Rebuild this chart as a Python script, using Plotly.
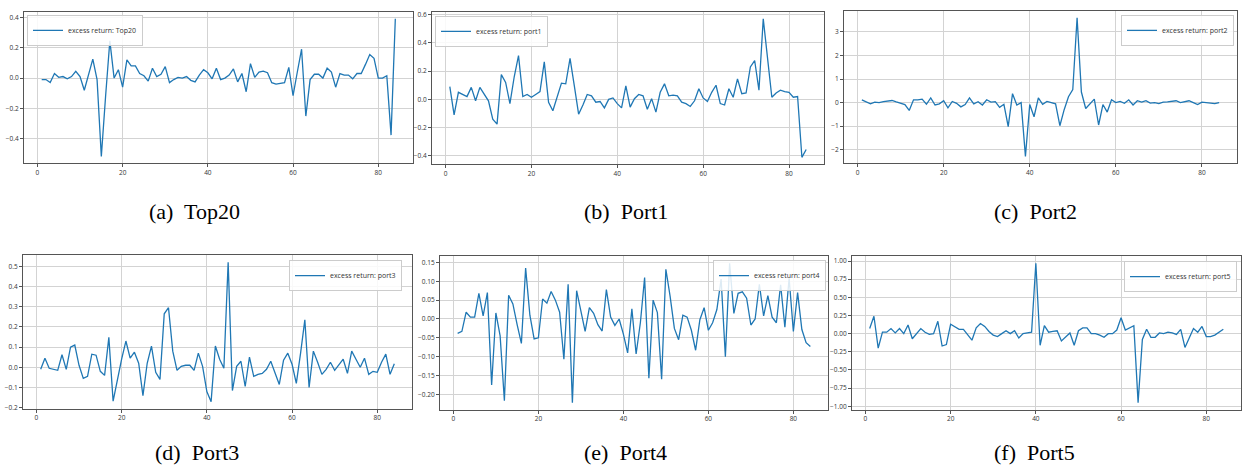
import plotly.graph_objects as go

x_vals = list(range(1, 85))

top20 = [-0.01, -0.01, -0.03, 0.03, 0.005, 0.01, -0.005, 0.01, 0.045, 0.01,
         -0.08, 0.03, 0.125, -0.01, -0.515, -0.12, 0.245, 0.0, 0.055, -0.06,
         0.12, 0.08, 0.08, 0.03, 0.015, -0.02, 0.065, 0.01, 0.025, 0.075,
         -0.03, -0.01, 0.005, 0.0, 0.01, -0.015, -0.025, 0.02, 0.055, 0.035,
         -0.005, 0.065, -0.01, 0.0, 0.02, 0.06, -0.025, 0.03, -0.09, 0.095,
         0.005, 0.04, 0.045, 0.035, -0.03, -0.04, -0.035, -0.03, 0.07, -0.115,
         0.04, 0.19, -0.25, -0.01, 0.025, 0.025, 0.0, 0.065, 0.04, -0.06,
         0.03, 0.02, 0.02, -0.005, 0.03, 0.03, 0.09, 0.155, 0.13, 0.0,
         0.0, 0.015, -0.375, 0.39]

port1 = [0.09, -0.11, 0.05, 0.035, 0.02, 0.085, -0.01, 0.085, 0.04, -0.01,
         -0.14, -0.175, 0.175, 0.12, -0.03, 0.16, 0.31, 0.02, 0.035, 0.015,
         0.035, 0.055, 0.265, -0.02, -0.08, 0.01, 0.115, 0.11, 0.29, 0.095,
         -0.105, -0.04, 0.035, 0.025, -0.02, -0.015, -0.06, 0.0, 0.01, -0.03,
         -0.06, 0.095, -0.055, 0.005, 0.035, 0.025, -0.07, 0.005, -0.09, 0.05,
         0.11, 0.025, 0.03, 0.025, -0.02, -0.03, -0.05, -0.01, 0.075, 0.01,
         -0.015, 0.05, 0.1, -0.03, -0.04, 0.075, 0.015, 0.145, 0.04, 0.045,
         0.23, 0.275, 0.065, 0.57, 0.3, 0.015, 0.045, 0.065, 0.055, 0.05,
         0.015, 0.02, -0.41, -0.355]

port2 = [0.12, 0.05, -0.05, 0.02, 0.0, 0.04, 0.07, 0.09, 0.03, -0.02,
         -0.08, -0.33, 0.12, 0.12, 0.15, -0.07, 0.2, -0.1, -0.05, 0.08,
         -0.22, 0.05, -0.03, -0.18, -0.08, 0.2, -0.05, 0.04, -0.1, 0.12,
         0.02, 0.04, -0.2, -0.07, -1.02, 0.38, -0.1, 0.0, -2.28, -0.08,
         -0.6, 0.2, -0.07, 0.05, 0.0, -0.05, -0.98, -0.3, 0.25, 0.55,
         3.6, 0.45, -0.25, -0.05, 0.15, -0.95, -0.08, -0.4, 0.12, 0.0,
         0.05, -0.03, 0.12, -0.1, 0.08, 0.02, 0.08, -0.02, 0.0, -0.04,
         0.02, 0.03, 0.05, 0.08, 0.0, 0.03, 0.08, 0.0, -0.08, 0.02,
         0.0, -0.05, -0.04, 0.0]

port3 = [-0.01, 0.045, -0.005, -0.01, -0.015, 0.062, -0.01, 0.1, 0.11, 0.01,
         -0.055, -0.045, 0.065, 0.06, -0.02, -0.04, 0.148, -0.168, -0.06, 0.04,
         0.13, 0.045, 0.075, 0.02, -0.14, 0.02, 0.105, -0.025, -0.06, 0.265,
         0.295, 0.08, -0.015, 0.005, 0.01, 0.01, -0.015, 0.07, 0.005, -0.12,
         -0.17, 0.105, 0.04, -0.005, 0.52, -0.115, 0.005, 0.03, -0.095, 0.05,
         -0.045, -0.035, -0.03, -0.01, 0.03, -0.025, -0.085, 0.035, 0.07, 0.015,
         -0.08, 0.07, 0.235, -0.1, 0.08, 0.025, -0.035, -0.01, 0.025, -0.015,
         0.015, 0.04, -0.03, 0.08, 0.04, 0.0, 0.045, -0.035, -0.02, -0.025,
         0.025, 0.065, -0.035, 0.018]

port4 = [-0.038, -0.033, 0.018, 0.005, 0.005, 0.068, 0.008, 0.07, -0.175, 0.016,
         -0.045, -0.217, 0.063, 0.04, -0.015, -0.065, 0.135, 0.01, -0.053, -0.05,
         0.053, 0.042, 0.073, 0.05, 0.018, -0.107, 0.092, -0.222, 0.075, 0.025,
         -0.033, 0.03, 0.015, -0.015, -0.032, 0.078, 0.005, -0.017, 0.0, -0.04,
         -0.09, 0.027, -0.093, -0.01, 0.11, -0.157, 0.05, 0.017, -0.16, 0.132,
         0.06, -0.025, -0.055, 0.01, 0.005, -0.03, -0.083, -0.002, 0.03, -0.03,
         -0.01, 0.025, 0.106, -0.1, 0.148, 0.015, 0.068, 0.072, 0.055, -0.016,
         0.0, 0.092, 0.008, 0.062, 0.005, -0.01, 0.091, -0.022, 0.108, -0.033,
         0.07, -0.028, -0.063, -0.073]

port5 = [0.07, 0.24, -0.2, 0.02, 0.02, 0.07, 0.01, 0.07, 0.0, 0.12,
         -0.07, 0.0, 0.07, 0.02, -0.01, 0.0, 0.17, -0.17, -0.15, 0.13,
         0.1, 0.06, 0.06, -0.02, -0.09, 0.08, 0.14, 0.1, 0.03, -0.02,
         -0.04, 0.0, 0.04, 0.0, 0.04, -0.06, 0.0, 0.01, 0.02, 0.97,
         -0.16, 0.11, 0.02, 0.03, 0.04, -0.1, -0.04, 0.01, -0.16, 0.04,
         0.08, 0.08, 0.0, 0.0, -0.02, -0.05, 0.0, 0.0, 0.05, 0.22,
         0.05, 0.08, 0.11, -0.95, -0.08, 0.06, -0.05, -0.05, 0.01, 0.0,
         0.02, 0.01, -0.01, 0.06, -0.19, -0.06, 0.07, 0.02, 0.1, -0.04,
         -0.04, -0.02, 0.02, 0.06]

series_names = ["Top20", "port1", "port2", "port3", "port4", "port5"]
series_values = [top20, port1, port2, port3, port4, port5]
captions = ["(a)&nbsp; Top20", "(b)&nbsp; Port1", "(c)&nbsp; Port2",
            "(d)&nbsp; Port3", "(e)&nbsp; Port4", "(f)&nbsp; Port5"]
x_ticks = [0, 20, 40, 60, 80]
y_ticks = [
    [-0.4, -0.2, 0.0, 0.2, 0.4],
    [-0.4, -0.2, 0.0, 0.2, 0.4, 0.6],
    [-2, -1, 0, 1, 2, 3],
    [-0.2, -0.1, 0.0, 0.1, 0.2, 0.3, 0.4, 0.5],
    [-0.20, -0.15, -0.10, -0.05, 0.0, 0.05, 0.10, 0.15],
    [-1.0, -0.75, -0.5, -0.25, 0.0, 0.25, 0.5, 0.75, 1.0],
]
y_formats = [".1f", ".1f", "d", ".1f", ".2f", ".2f"]

# ---- layout (pixels) ----
W, H = 1244, 468
boxes = [(24, 413, 10, 163), (432, 824, 10, 164), (844, 1237, 9, 163),
         (23, 412, 256, 411), (440, 828, 257, 412), (852, 1241, 257, 412)]
legend_pos = [(27, 13, "left"), (435, 14, "left"), (1234, 13, "right"),
              (402, 261, "right"), (826, 261, "right"), (1237, 262, "right")]
caption_pos = [(195, 212), (626, 212), (1035, 212),
               (197, 455), (625, 455), (1034, 455)]

BLUE = "#1f77b4"
tick_font = dict(family="Open Sans", size=6.5, color="#333333")

fig = go.Figure()
layout = dict(width=W, height=H, margin=dict(l=0, r=0, t=0, b=0),
              paper_bgcolor="white", plot_bgcolor="white", annotations=[])

for i, (name, vals) in enumerate(zip(series_names, series_values)):
    k = "" if i == 0 else str(i + 1)
    leg = "legend" + k
    fig.add_trace(go.Scatter(
        x=x_vals, y=vals, mode="lines", name=f"excess return: {name}",
        line=dict(color=BLUE, width=1.3), xaxis="x" + k, yaxis="y" + k,
        legend=leg, showlegend=True))

    x0, x1, y0, y1 = boxes[i]
    xmin, xmax = min(x_vals), max(x_vals)
    xpad = 0.05 * (xmax - xmin)
    ymin, ymax = min(vals), max(vals)
    ypad = 0.05 * (ymax - ymin)

    common = dict(showline=True, mirror=True, linecolor="#555555", linewidth=1,
                  showgrid=True, gridcolor="#d3d3d3", gridwidth=1,
                  zeroline=False, ticks="outside", ticklen=3, tickwidth=1,
                  tickcolor="#555555", tickfont=tick_font)
    layout["xaxis" + k] = dict(
        domain=[x0 / W, x1 / W], range=[xmin - xpad, xmax + xpad],
        anchor="y" + k, tickvals=x_ticks, **common)
    layout["yaxis" + k] = dict(
        domain=[1 - y1 / H, 1 - y0 / H], range=[ymin - ypad, ymax + ypad],
        anchor="x" + k, tickvals=y_ticks[i], tickformat=y_formats[i], **common)

    lx, ly, side = legend_pos[i]
    layout[leg] = dict(
        x=lx / W, y=1 - ly / H, xref="paper", yref="paper",
        xanchor=side, yanchor="top", bgcolor="rgba(255,255,255,0.85)",
        bordercolor="#cccccc", borderwidth=1, itemwidth=30,
        font=dict(family="Open Sans", size=7, color="#333333"))

    cx, cy = caption_pos[i]
    layout["annotations"].append(dict(
        text=captions[i], x=cx / W, y=1 - cy / H, xref="paper", yref="paper",
        xanchor="center", yanchor="middle", showarrow=False,
        font=dict(family="Liberation Serif", size=22, color="black")))

fig.update_layout(**layout)
fig.write_html("out.html")
